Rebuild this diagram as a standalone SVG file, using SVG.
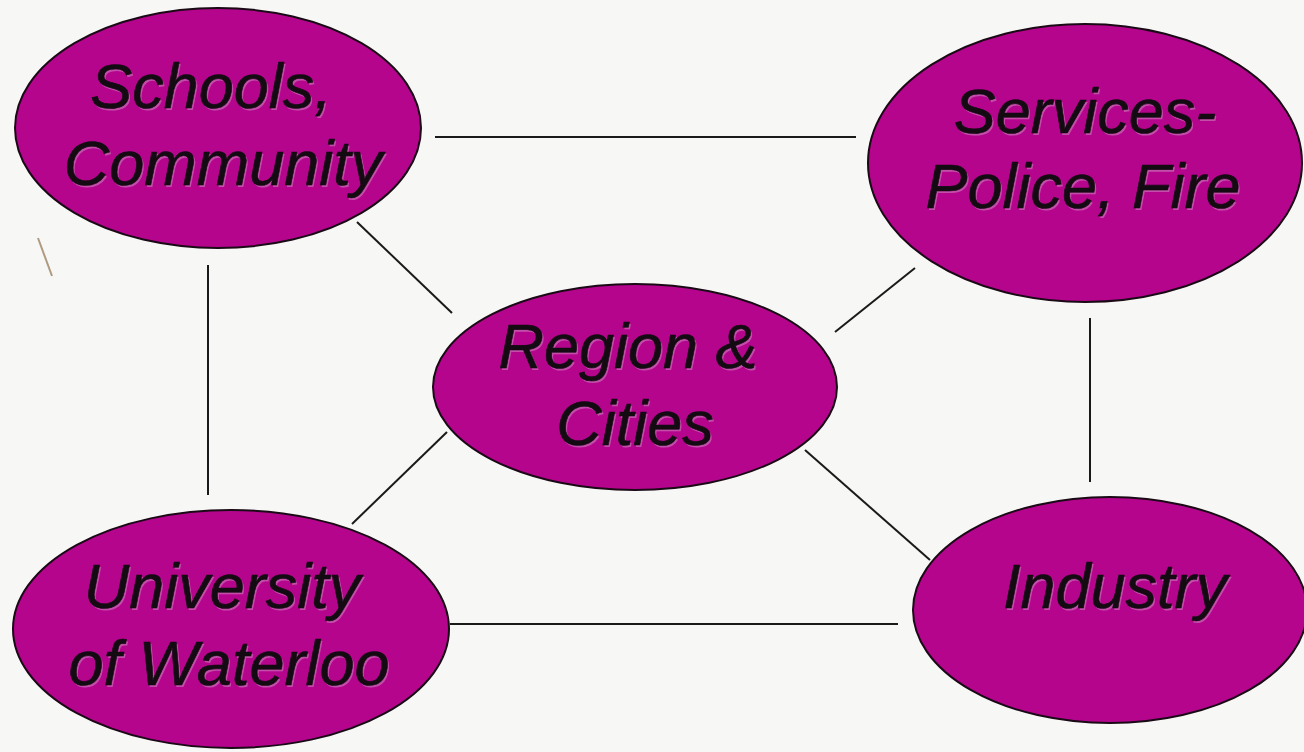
<svg xmlns="http://www.w3.org/2000/svg" width="1304" height="752" viewBox="0 0 1304 752">
<style>
.bg{fill:#f7f7f5}
.node ellipse{fill:#b5058d;stroke:#1a0a16;stroke-width:2}
.lbl{font-family:"Liberation Sans",Arial,sans-serif;font-style:italic;font-size:63px;text-anchor:middle;fill:#140a12;stroke:#140a12;stroke-width:0.6}
.sh{fill:#d6a8cc;stroke:none;opacity:0.45}
.conn line{stroke:#1a1a1a;stroke-width:2;fill:none}
</style>
<rect class="bg" x="0" y="0" width="1304" height="752"/>
<line x1="38" y1="238" x2="52" y2="276" stroke="#b09a80" stroke-width="2"/>
<g id="connectors" class="conn">
<line x1="435" y1="137" x2="856" y2="137"/>
<line x1="357" y1="222" x2="452" y2="313"/>
<line x1="915" y1="268" x2="835" y2="332"/>
<line x1="208" y1="265" x2="208" y2="495"/>
<line x1="1090" y1="318" x2="1090" y2="482"/>
<line x1="447" y1="432" x2="352" y2="524"/>
<line x1="805" y1="450" x2="930" y2="560"/>
<line x1="450" y1="624" x2="898" y2="624"/>
</g>
<g id="schools" class="node">
<ellipse cx="218" cy="128" rx="203" ry="120"/>
<text class="lbl sh" x="212.5" y="109.5">Schools,</text>
<text class="lbl sh" x="224.5" y="186.5">Community</text>
<text class="lbl" x="211" y="108">Schools,</text>
<text class="lbl" x="223" y="185">Community</text>
</g>
<g id="services" class="node">
<ellipse cx="1085" cy="163" rx="217" ry="139"/>
<text class="lbl sh" x="1086.5" y="134.5">Services-</text>
<text class="lbl sh" x="1084.5" y="209.5">Police, Fire</text>
<text class="lbl" x="1085" y="133">Services-</text>
<text class="lbl" x="1083" y="208">Police, Fire</text>
</g>
<g id="region" class="node">
<ellipse cx="635" cy="387" rx="202" ry="103"/>
<text class="lbl sh" x="629.5" y="369.5">Region &amp;</text>
<text class="lbl sh" x="636.5" y="446.5">Cities</text>
<text class="lbl" x="628" y="368">Region &amp;</text>
<text class="lbl" x="635" y="445">Cities</text>
</g>
<g id="university" class="node">
<ellipse cx="231" cy="629" rx="218" ry="119"/>
<text class="lbl sh" x="223.5" y="609.5">University</text>
<text class="lbl sh" x="230.5" y="686.5">of Waterloo</text>
<text class="lbl" x="222" y="608">University</text>
<text class="lbl" x="229" y="685">of Waterloo</text>
</g>
<g id="industry" class="node">
<ellipse cx="1110" cy="610" rx="197" ry="113"/>
<text class="lbl sh" x="1116.5" y="609.5">Industry</text>
<text class="lbl" x="1115" y="608">Industry</text>
</g>
</svg>
